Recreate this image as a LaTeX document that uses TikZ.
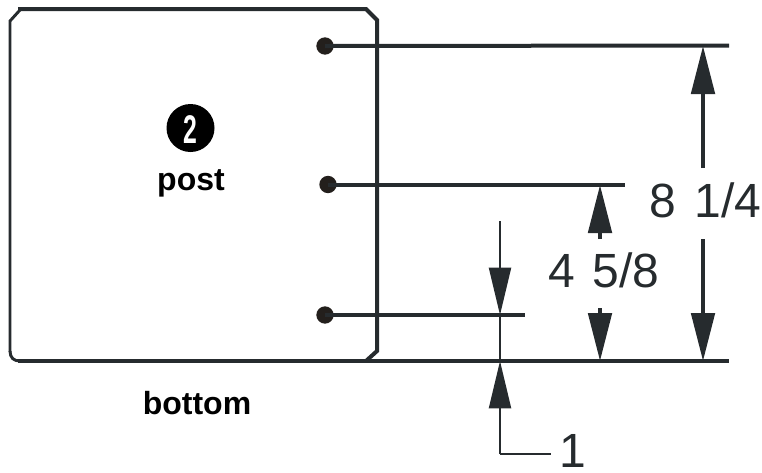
\documentclass[tikz,border=0pt]{standalone}
\usepackage{fontspec}
\setmainfont{Liberation Sans}
\usetikzlibrary{arrows.meta}
\definecolor{ink}{HTML}{262B2E}
\definecolor{dotink}{HTML}{231F1C}
\tikzset{
  every picture/.style={x=0.75pt,y=-0.75pt},
  wall/.style={draw=ink,line width=3pt,line cap=butt},
  thinwall/.style={draw=ink,line width=2.2pt},
  ext/.style={draw=ink,line width=3pt},
  dim/.style={draw=ink,line width=3pt,-{Triangle[length=36pt,width=17.5pt]}},
  dimthin/.style={draw=ink,line width=1.6pt,-{Triangle[length=35.5pt,width=16.5pt]}},
  lead/.style={draw=ink,line width=1.6pt},
  dotnode/.style={circle,fill=dotink,minimum size=13pt,inner sep=0pt},
  dimlabel/.style={text=ink,font=\fontsize{36pt}{38pt}\selectfont,inner sep=0pt,anchor=base},
  caption/.style={text=black,font=\bfseries\fontsize{24pt}{26pt}\selectfont,inner sep=0pt,anchor=base},
}
\begin{document}
\begin{tikzpicture}
\useasboundingbox (0,0) rectangle (762,472);
% post outline
\draw[thinwall] (10,352) -- (10,21) -- (20,10);
\draw[wall] (18,9) -- (366,9) -- (377,20) -- (377,351) -- (366,361);
\draw[thinwall] (20,361) .. controls (14,361) and (10,358) .. (10,351);
% bottom reference line
\coordinate (bl) at (18,361);
\coordinate (br) at (729,361);
\draw[ext] (bl) -- (br);
% dots and extension lines
\node[dotnode] (d1) at (325,46) {};
\node[dotnode] (d2) at (328,184.5) {};
\node[dotnode] (d3) at (325,315) {};
\coordinate (e1) at (729,45.5);
\coordinate (e2) at (625,184.5);
\coordinate (e3) at (525,315);
\draw[ext] (d1.center) -- (e1);
\draw[ext] (d2.center) -- (e2);
\draw[ext] (d3.center) -- (e3);
% 8 1/4
\coordinate (a1) at (703,168);
\coordinate (a2) at (703,46);
\coordinate (a3) at (703,239);
\coordinate (a4) at (703,361);
\draw[dim] (a1) -- (a2);
\draw[dim] (a3) -- (a4);
% 4 5/8
\coordinate (b1) at (600,239);
\coordinate (b2) at (600,185);
\coordinate (b3) at (600,308);
\coordinate (b4) at (600,361);
\draw[dim] (b1) -- (b2);
\draw[dim] (b3) -- (b4);
% 1
\coordinate (c1) at (500,221);
\coordinate (c2) at (500,315);
\coordinate (c3) at (500,454);
\coordinate (c4) at (500,361);
\coordinate (c5) at (551,454);
\draw[dimthin] (c1) -- (c2);
\draw[lead] (c2) -- (c4);
\draw[dimthin] (c3) -- (c4);
\draw[lead] (c3) -- (c5);
% labels
\node[dimlabel] (l1) at (705.5,217) {8\hspace{3.4pt} 1/4};
\node[dimlabel] (l2) at (604,287) {4\hspace{3.4pt} 5/8};
\node[dimlabel] (l3) at (573,467) {1};
\node[circle,fill=black,minimum size=36pt,inner sep=0pt] (badge) at (190.5,128) {};
\node[text=white,font=\bfseries\fontsize{30pt}{32pt}\selectfont,inner sep=0pt,xscale=0.62] (num) at (190.5,130) {2};
\node[caption] (post) at (191,190) {post};
\node[caption] (bottom) at (197,414) {bottom};
\end{tikzpicture}
\end{document}
